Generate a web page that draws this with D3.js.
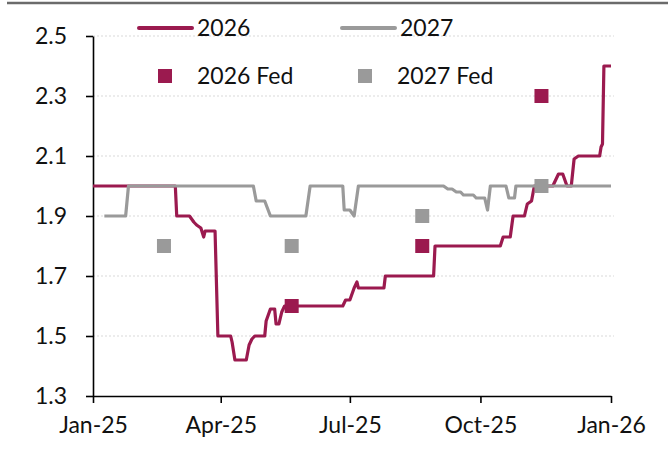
<!DOCTYPE html>
<html lang="en">
<head>
    <meta charset="UTF-8">
    <title>2026 / 2027 rate path</title>
    <script type="text/javascript" src="https://cdnjs.cloudflare.com/ajax/libs/d3/7.8.5/d3.min.js"></script>
    <style>
        body { margin: 0; background: #fff; }
        #chart text { font-family: Lato, "Open Sans", sans-serif; fill: #111; }
        .grid line { stroke: #d9d9d9; stroke-dasharray: 2,2; }
    </style>
</head>
<body>
    <div id="chart"></div>
    <script>
        // Series data
        const dates2026 = ["2025-01-01","2025-02-28","2025-03-01","2025-03-10","2025-03-13","2025-03-15","2025-03-18","2025-03-20","2025-03-21","2025-03-28","2025-03-30","2025-04-08","2025-04-09","2025-04-11","2025-04-19","2025-04-21","2025-04-23","2025-04-25","2025-05-02","2025-05-03","2025-05-06","2025-05-09","2025-05-10","2025-05-12","2025-05-14","2025-05-16","2025-06-26","2025-06-28","2025-07-01","2025-07-04","2025-07-06","2025-07-07","2025-07-25","2025-07-26","2025-08-29","2025-08-30","2025-10-15","2025-10-17","2025-10-22","2025-10-24","2025-11-01","2025-11-03","2025-11-06","2025-11-08","2025-11-21","2025-11-25","2025-11-28","2025-12-01","2025-12-04","2025-12-06","2025-12-09","2025-12-24","2025-12-25","2025-12-26","2025-12-27","2026-01-01"];
        const values2026 = [2.0,2.0,1.9,1.9,1.88,1.87,1.86,1.83,1.85,1.85,1.5,1.5,1.48,1.42,1.42,1.47,1.49,1.5,1.5,1.55,1.59,1.59,1.54,1.54,1.58,1.6,1.6,1.62,1.62,1.66,1.68,1.66,1.66,1.7,1.7,1.8,1.8,1.83,1.83,1.9,1.9,1.94,1.95,2.0,2.0,2.04,2.04,2.0,2.0,2.09,2.1,2.1,2.13,2.14,2.4,2.4];

        const dates2027 = ["2025-01-09","2025-01-24","2025-01-26","2025-04-24","2025-04-26","2025-05-02","2025-05-06","2025-05-31","2025-06-03","2025-06-26","2025-06-27","2025-07-01","2025-07-04","2025-07-07","2025-09-05","2025-09-08","2025-09-11","2025-09-14","2025-09-17","2025-09-19","2025-09-26","2025-09-28","2025-10-04","2025-10-06","2025-10-08","2025-10-19","2025-10-21","2025-10-25","2025-10-26","2026-01-01"];
        const values2027 = [1.9,1.9,2.0,2.0,1.95,1.95,1.9,1.9,2.0,2.0,1.92,1.92,1.9,2.0,2.0,1.99,1.99,1.98,1.98,1.97,1.97,1.96,1.96,1.92,2.0,2.0,1.96,1.96,2.0,2.0];

        // Fed projections
        const fedDates = ["2025-02-20","2025-05-21","2025-08-21","2025-11-13"];
        const fed2026 = [null, 1.6, 1.8, 2.3];
        const fed2027 = [1.8, 1.8, 1.9, 2.0];

        // Axis ticks
        const yTicks = [1.3, 1.5, 1.7, 1.9, 2.1, 2.3, 2.5];
        const xTicks = ["2025-01-01","2025-04-01","2025-07-01","2025-10-01","2026-01-01"];

        const red = "#9b1a4f";
        const grey = "#9a9a9a";

        const width = 668;
        const height = 450;
        const parse = d3.timeParse("%Y-%m-%d");

        const svg = d3.select("#chart")
            .append("svg")
            .attr("width", width)
            .attr("height", height);

        const x = d3.scaleTime()
            .domain([parse("2025-01-01"), parse("2026-01-01")])
            .range([93, 611]);

        const y = d3.scaleLinear()
            .domain([1.3, 2.5])
            .range([396, 36]);

        // top border strip
        svg.append("line")
            .attr("x1", 7).attr("x2", width)
            .attr("y1", 3).attr("y2", 3)
            .attr("stroke", "#6b6b6b")
            .attr("stroke-width", 2.5);

        // Gridlines
        svg.append("g")
            .attr("class", "grid")
            .selectAll("line")
            .data(yTicks.filter(d => d > 1.3))
            .enter()
            .append("line")
            .attr("x1", x.range()[0])
            .attr("x2", 614)
            .attr("y1", d => y(d))
            .attr("y2", d => y(d));

        // Axes
        const yAxis = svg.append("g")
            .attr("transform", `translate(${x.range()[0]},0)`)
            .call(d3.axisLeft(y).tickValues(yTicks).tickFormat(d3.format(".1f"))
                .tickSize(7).tickSizeOuter(0).tickPadding(19));

        const xAxis = svg.append("g")
            .attr("transform", `translate(0,${y(1.3)})`)
            .call(d3.axisBottom(x).tickValues(xTicks.map(parse))
                .tickFormat(d3.timeFormat("%b-%y"))
                .tickSize(7).tickSizeOuter(0).tickPadding(14));

        [yAxis, xAxis].forEach(a => {
            a.select(".domain").attr("stroke", "#000").attr("stroke-width", 1.6);
            a.selectAll(".tick line").attr("stroke", "#000").attr("stroke-width", 1.6);
            a.selectAll("text").attr("font-size", 23).attr("fill", "#111");
        });

        // Lines
        const line = d3.line()
            .x(d => x(d.date))
            .y(d => y(d.value));

        const series2026 = dates2026.map((d, i) => ({ date: parse(d), value: values2026[i] }));
        const series2027 = dates2027.map((d, i) => ({ date: parse(d), value: values2027[i] }));

        svg.append("path")
            .datum(series2026)
            .attr("d", line)
            .attr("fill", "none")
            .attr("stroke", red)
            .attr("stroke-width", 3.2)
            .attr("stroke-linejoin", "round");

        svg.append("path")
            .datum(series2027)
            .attr("d", line)
            .attr("fill", "none")
            .attr("stroke", grey)
            .attr("stroke-width", 3.2)
            .attr("stroke-linejoin", "round");

        // Fed squares
        const sq = 14;
        function drawFed(vals, colour) {
            svg.append("g")
                .selectAll("rect")
                .data(fedDates.map((d, i) => ({ date: parse(d), value: vals[i] })).filter(d => d.value !== null))
                .enter()
                .append("rect")
                .attr("x", d => x(d.date) - sq / 2)
                .attr("y", d => y(d.value) - sq / 2)
                .attr("width", sq)
                .attr("height", sq)
                .attr("fill", colour);
        }
        drawFed(fed2026, red);
        drawFed(fed2027, grey);

        // Legend
        const legend = svg.append("g");
        const lineItems = [
            { label: "2026", colour: red, x: 139 },
            { label: "2027", colour: grey, x: 342 }
        ];
        lineItems.forEach(item => {
            legend.append("line")
                .attr("x1", item.x).attr("x2", item.x + 53)
                .attr("y1", 28).attr("y2", 28)
                .attr("stroke", item.colour)
                .attr("stroke-width", 4)
                .attr("stroke-linecap", "round");
            legend.append("text")
                .attr("x", item.x + 58)
                .attr("y", 36)
                .attr("font-size", 23)
                .text(item.label);
        });
        const boxItems = [
            { label: "2026 Fed", colour: red, x: 158 },
            { label: "2027 Fed", colour: grey, x: 358 }
        ];
        boxItems.forEach(item => {
            legend.append("rect")
                .attr("x", item.x).attr("y", 69)
                .attr("width", sq).attr("height", sq)
                .attr("fill", item.colour);
            legend.append("text")
                .attr("x", item.x + 39)
                .attr("y", 84)
                .attr("font-size", 23)
                .text(item.label);
        });
    </script>
</body>
</html>
